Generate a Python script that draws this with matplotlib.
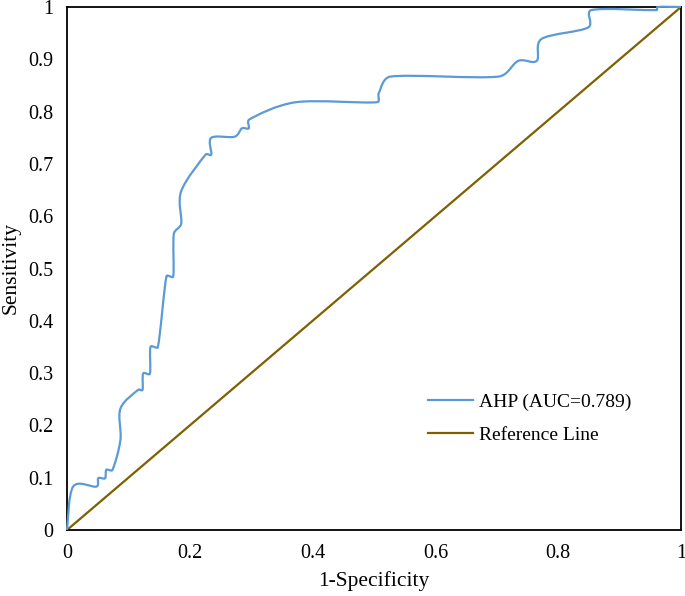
import numpy as np
import matplotlib
matplotlib.use("Agg")
import matplotlib.pyplot as plt
from matplotlib.path import Path
from matplotlib.patches import PathPatch
from matplotlib.lines import Line2D

# ROC points (1-Specificity, Sensitivity)
fpr = [0.0, 0.010, 0.048, 0.051, 0.062, 0.064, 0.074, 0.087, 0.087, 0.116,
       0.123, 0.124, 0.135, 0.136, 0.148, 0.162, 0.173, 0.174, 0.186, 0.186,
       0.226, 0.235, 0.235, 0.273, 0.285, 0.296, 0.297, 0.373, 0.505, 0.508,
       0.527, 0.703, 0.735, 0.765, 0.773, 0.849, 0.854, 0.960, 0.962, 1.0]
tpr = [0.0, 0.083, 0.083, 0.099, 0.099, 0.115, 0.115, 0.172, 0.232, 0.268,
       0.268, 0.299, 0.299, 0.350, 0.350, 0.485, 0.485, 0.566, 0.586, 0.648,
       0.718, 0.718, 0.750, 0.752, 0.768, 0.768, 0.785, 0.818, 0.818, 0.836,
       0.867, 0.867, 0.897, 0.897, 0.939, 0.961, 0.994, 0.994, 1.0, 1.0]
ref_x = [0.0, 1.0]
ref_y = [0.0, 1.0]
roc_label = "AHP (AUC=0.789)"
ref_label = "Reference Line"
ticks = [0, 0.2, 0.4, 0.6, 0.8, 1]
yticks = [0, 0.1, 0.2, 0.3, 0.4, 0.5, 0.6, 0.7, 0.8, 0.9, 1]

BLUE = "#5B9BD5"
BROWN = "#7F6000"

plt.rcParams['font.family'] = ['Liberation Serif', 'DejaVu Serif']

fig = plt.figure(figsize=(6.85, 5.96), dpi=100)
ax = fig.add_axes([67/685, 1-530/596, (681-67)/685, (530-7)/596])


def smooth_path(xs, ys, k=0.4):
    """Smoothed line (cubic Bezier through the points), computed in display space."""
    P = ax.transData.transform(np.column_stack([xs, ys]).astype(float))
    n = len(P)

    def arm(v, seg):
        L = np.hypot(*v)
        if L == 0:
            return v * 0
        length = min(L / 6.0, seg * k)
        return v / L * length

    verts = [P[0]]
    codes = [Path.MOVETO]
    for i in range(n - 1):
        p0 = P[i - 1] if i > 0 else P[i]
        p1 = P[i]
        p2 = P[i + 1]
        p3 = P[i + 2] if i + 2 < n else P[i + 1]
        seg = np.hypot(*(p2 - p1))
        c1 = p1 + arm(p2 - p0, seg)
        c2 = p2 - arm(p3 - p1, seg)
        verts += [c1, c2, p2]
        codes += [Path.CURVE4] * 3
    V = ax.transData.inverted().transform(np.array(verts))
    return Path(V, codes)


ax.set_xlim(0, 1)
ax.set_ylim(0, 1)

ax.plot(ref_x, ref_y, color=BROWN, lw=1.6, zorder=2, solid_capstyle='butt')
patch = PathPatch(smooth_path(fpr, tpr), facecolor='none', edgecolor=BLUE,
                  lw=1.6, zorder=3, clip_on=False)
ax.add_patch(patch)

ax.set_xticks(ticks)
ax.set_xticklabels([f"{t:g}" for t in ticks])
ax.set_yticks(yticks)
ax.set_yticklabels([f"{t:g}" for t in yticks])
ax.tick_params(length=0, labelsize=14.5, pad=10)
for s in ax.spines.values():
    s.set_linewidth(1.3)
    s.set_color('black')

ax.set_xlabel("1-Specificity", fontsize=15.5, labelpad=6)
ax.set_ylabel("Sensitivity", fontsize=15.5, labelpad=5)

handles = [Line2D([], [], color=BLUE, lw=1.6), Line2D([], [], color=BROWN, lw=1.6)]
fig.legend(handles, [roc_label, ref_label], loc='upper left',
           bbox_to_anchor=(428/685, 1-393/596), frameon=False, fontsize=14,
           borderpad=0, handlelength=2.3, handletextpad=0.3, labelspacing=0.8,
           borderaxespad=0)

fig.savefig("out.png", dpi=100)
